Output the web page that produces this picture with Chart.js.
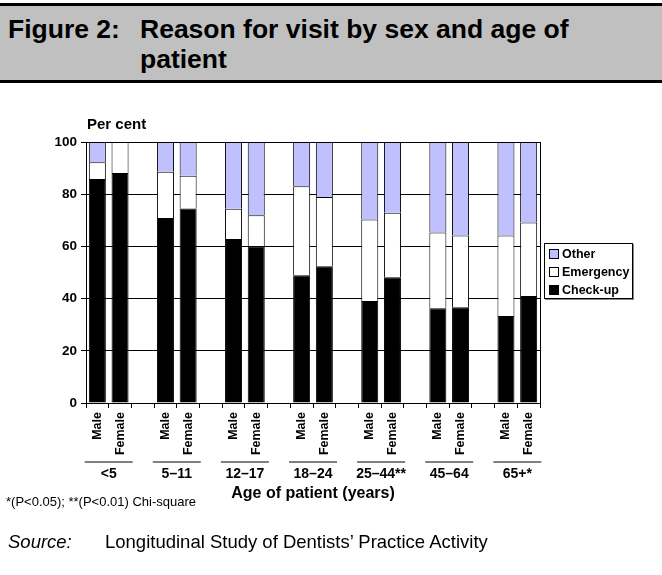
<!DOCTYPE html>
<html>
<head>
<meta charset="utf-8">
<script src="https://cdn.jsdelivr.net/npm/chart.js@4"></script>
<style>
  html, body { margin:0; padding:0; background:#fff; }
  body { width:662px; height:575px; position:relative; overflow:hidden; font-family:'Liberation Sans', Arial, sans-serif; color:#000; }
  #header { position:absolute; left:0; top:3px; width:662px; height:74px; background:#c0c0c0; border-top:3px solid #000; border-bottom:3px solid #000; }
  .ttl { position:absolute; font-weight:bold; font-size:26.5px; line-height:30px; white-space:nowrap; }
  #c { position:absolute; left:0; top:0; }
  #percent { position:absolute; left:87px; top:115px; font-weight:bold; font-size:15px; }
  #legend { position:absolute; left:544px; top:243px; width:87px; height:54px; border:1px solid #000; box-shadow:1px 1px 0 #888; background:#fff; }
  .li { position:absolute; left:4px; font-weight:bold; font-size:12.5px; line-height:14px; white-space:nowrap; }
  .sw { display:inline-block; width:8px; height:8px; border:1px solid #000; margin-right:3px; vertical-align:-1px; }
  #foot { position:absolute; left:6px; top:494px; font-size:13px; white-space:nowrap; }
  #src { position:absolute; left:8px; top:531px; font-size:18.5px; white-space:nowrap; }
  #src i { display:inline-block; width:97px; }
</style>
</head>
<body>
<div id="header">
  <div class="ttl" style="left:8px; top:8px;">Figure 2:</div>
  <div class="ttl" style="left:140px; top:8px;">Reason for visit by sex and age of<br>patient</div>
</div>
<canvas id="c" width="662" height="575"></canvas>
<div id="percent">Per cent</div>
<div id="legend"></div>
<div id="foot">*(P&lt;0.05); **(P&lt;0.01) Chi-square</div>
<div id="src"><i>Source:</i>Longitudinal Study of Dentists’ Practice Activity</div>
<script>
// ---- data ----
const groups = ['<5', '5–11', '12–17', '18–24', '25–44**', '45–64', '65+*'];
const sexes = ['Male', 'Female'];
const yTicks = [0, 20, 40, 60, 80, 100];
const seriesNames = ['Check-up', 'Emergency', 'Other'];
// order: <5 M, <5 F, 5–11 M, 5–11 F, ... 65+ M, 65+ F
const checkup   = [85.8, 88.1, 70.9, 74.5, 62.8, 60.1, 48.9, 52.4, 39.1, 48.2, 36.3, 36.7, 33.3, 41.0];
const emergency = [6.4, 11.9, 17.7, 12.6, 11.6, 11.8, 34.1, 26.5, 31.2, 24.7, 29.0, 27.5, 30.9, 28.2];
const other     = [7.8, 0.0, 11.4, 12.9, 25.6, 28.1, 17.0, 21.1, 29.7, 27.1, 34.7, 35.8, 35.8, 30.8];

const colors = ['#000000', '#ffffff', '#c0c0ff'];

// build slots: Male, Female, gap, ...
const labels = [];
const slotIndex = []; // data index for each slot or -1
groups.forEach((g, gi) => {
  sexes.forEach((s, si) => { labels.push(s); slotIndex.push(gi * 2 + si); });
  if (gi < groups.length - 1) { labels.push(''); slotIndex.push(-1); }
});
const expand = arr => slotIndex.map(i => i < 0 ? null : arr[i]);
const seriesData = [checkup, emergency, other];

// legend (HTML)
const leg = document.getElementById('legend');
[2, 1, 0].forEach((k, row) => {
  const d = document.createElement('div');
  d.className = 'li';
  d.style.top = (3 + row * 18) + 'px';
  d.innerHTML = '<span class="sw" style="background:' + colors[k] + '"></span>' + seriesNames[k];
  leg.appendChild(d);
});

const FONT = "'Liberation Sans', Arial, sans-serif";

const extras = {
  id: 'extras',
  afterDraw(chart) {
    const ctx = chart.ctx;
    const xs = chart.scales.x;
    const ca = chart.chartArea;
    ctx.save();
    // right border
    ctx.strokeStyle = '#000';
    ctx.lineWidth = 1;
    ctx.beginPath();
    ctx.moveTo(Math.round(ca.right) + 0.5, ca.top);
    ctx.lineTo(Math.round(ca.right) + 0.5, ca.bottom);
    ctx.stroke();
    // group labels
    ctx.fillStyle = '#000';
    ctx.textAlign = 'center';
    ctx.textBaseline = 'middle';
    groups.forEach((g, gi) => {
      const i = gi * 3;
      const cx = (xs.getPixelForValue(i) + xs.getPixelForValue(i + 1)) / 2;
      ctx.strokeStyle = '#808080';
      ctx.lineWidth = 2;
      ctx.beginPath();
      ctx.moveTo(cx - 24, 462);
      ctx.lineTo(cx + 24, 462);
      ctx.stroke();
      ctx.font = 'bold 14px ' + FONT;
      ctx.fillText(g, cx, 474);
    });
    ctx.font = 'bold 16px ' + FONT;
    ctx.fillText('Age of patient (years)', (ca.left + ca.right) / 2, 494);
    ctx.restore();
  }
};

new Chart(document.getElementById('c'), {
  type: 'bar',
  data: {
    labels: labels,
    datasets: seriesData.map((arr, k) => ({
      label: seriesNames[k],
      data: expand(arr),
      backgroundColor: colors[k],
      borderColor: '#000',
      borderWidth: 1,
      barPercentage: 0.75,
      categoryPercentage: 1.0
    }))
  },
  options: {
    responsive: false,
    animation: false,
    devicePixelRatio: 1,
    layout: { padding: { left: 0, top: 142, right: 122, bottom: 0 } },
    plugins: { legend: { display: false }, tooltip: { enabled: false } },
    scales: {
      x: {
        stacked: true,
        offset: true,
        grid: { drawOnChartArea: false, drawTicks: true, tickLength: 5, color: '#000', offset: true },
        border: { color: '#000', width: 1 },
        ticks: { autoSkip: false, maxRotation: 90, minRotation: 90, color: '#000', padding: 4,
                 font: { family: FONT, weight: 'bold', size: 12.5 } },
        afterFit(s) { s.height = 575 - 403; }
      },
      y: {
        stacked: true,
        min: 0, max: 100,
        afterBuildTicks(s) { s.ticks = yTicks.map(v => ({ value: v })); },
        grid: { color: '#000', lineWidth: 1, tickLength: 5 },
        border: { color: '#000', width: 1 },
        ticks: { color: '#000', padding: 4, font: { family: FONT, weight: 'bold', size: 13.5 } },
        afterFit(s) { s.width = 86; }
      }
    }
  },
  plugins: [extras]
});
</script>
</body>
</html>
